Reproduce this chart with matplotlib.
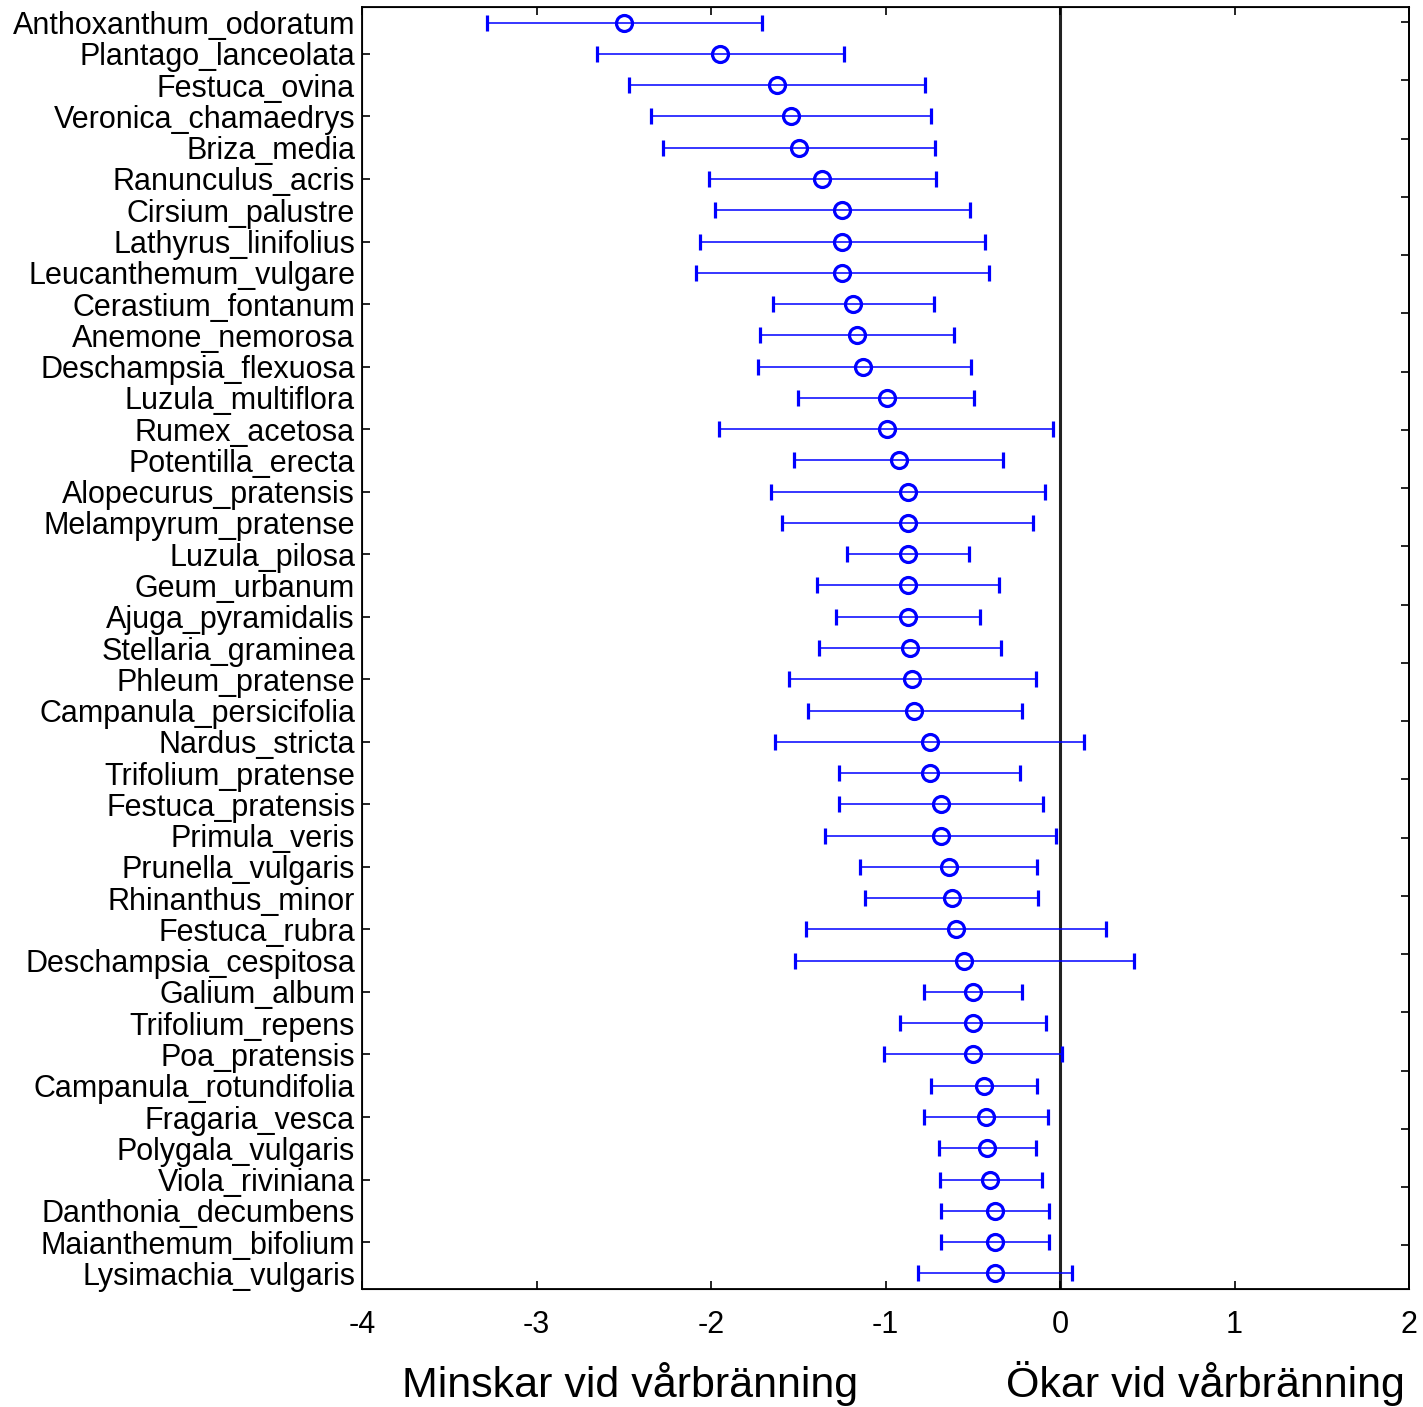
import numpy as np
import matplotlib
matplotlib.use("Agg")
from matplotlib import pyplot as plt

# species in plot order (top to bottom)
species = [
    "Anthoxanthum_odoratum", "Plantago_lanceolata", "Festuca_ovina", "Veronica_chamaedrys",
    "Briza_media", "Ranunculus_acris", "Cirsium_palustre", "Lathyrus_linifolius",
    "Leucanthemum_vulgare", "Cerastium_fontanum", "Anemone_nemorosa", "Deschampsia_flexuosa",
    "Luzula_multiflora", "Rumex_acetosa", "Potentilla_erecta", "Alopecurus_pratensis",
    "Melampyrum_pratense", "Luzula_pilosa", "Geum_urbanum", "Ajuga_pyramidalis",
    "Stellaria_graminea", "Phleum_pratense", "Campanula_persicifolia", "Nardus_stricta",
    "Trifolium_pratense", "Festuca_pratensis", "Primula_veris", "Prunella_vulgaris",
    "Rhinanthus_minor", "Festuca_rubra", "Deschampsia_cespitosa", "Galium_album",
    "Trifolium_repens", "Poa_pratensis", "Campanula_rotundifolia", "Fragaria_vesca",
    "Polygala_vulgaris", "Viola_riviniana", "Danthonia_decumbens", "Maianthemum_bifolium",
    "Lysimachia_vulgaris",
]
mean = [
    -2.499, -1.948, -1.624, -1.543, -1.496, -1.366, -1.249, -1.249, -1.249, -1.188,
    -1.162, -1.127, -0.993, -0.993, -0.923, -0.869, -0.869, -0.869, -0.869, -0.869,
    -0.860, -0.850, -0.835, -0.745, -0.745, -0.684, -0.682, -0.638, -0.619, -0.596,
    -0.550, -0.497, -0.497, -0.497, -0.434, -0.426, -0.418, -0.401, -0.372, -0.372,
    -0.372,
]
lower = [
    -3.282, -2.655, -2.468, -2.344, -2.277, -2.011, -1.977, -2.063, -2.088, -1.646,
    -1.719, -1.731, -1.501, -1.952, -1.524, -1.658, -1.593, -1.221, -1.393, -1.284,
    -1.381, -1.553, -1.442, -1.633, -1.265, -1.268, -1.345, -1.148, -1.116, -1.457,
    -1.519, -0.779, -0.915, -1.009, -0.739, -0.781, -0.693, -0.688, -0.682, -0.682,
    -0.814,
]
upper = [
    -1.709, -1.236, -0.774, -0.741, -0.716, -0.711, -0.516, -0.430, -0.405, -0.722,
    -0.606, -0.512, -0.491, -0.042, -0.325, -0.086, -0.153, -0.523, -0.350, -0.458,
    -0.340, -0.139, -0.216, 0.138, -0.229, -0.099, -0.025, -0.132, -0.126, 0.264,
    0.424, -0.216, -0.080, 0.010, -0.132, -0.067, -0.136, -0.105, -0.061, -0.061,
    0.069,
]
x_ticks = [-4, -3, -2, -1, 0, 1, 2]

plt.rcParams['font.family'] = ['Liberation Sans', 'DejaVu Sans']

mean = np.array(mean)
err = np.vstack([mean - np.array(lower), np.array(upper) - mean])
rows = np.arange(len(species))

fig = plt.figure(figsize=(14.23, 14.07), dpi=100)
ax = fig.add_axes([362 / 1423, 1 - 1289 / 1407, 1047 / 1423, 1282 / 1407])

ax.axvline(0, color='#222222', linewidth=2.2, zorder=1)
ax.errorbar(mean, rows, xerr=err, fmt='o', color='blue', ecolor='blue',
            elinewidth=1.1, capsize=6, capthick=1.3, markersize=11.5,
            markerfacecolor='none', markeredgewidth=2.3, zorder=3)

ax.set_xlim(-4, 2)
ax.set_ylim(len(species) - 0.5, -0.5)
ax.set_xticks(x_ticks)
ax.set_xticklabels([str(t) for t in x_ticks], fontsize=22)
ax.set_yticks(rows)
ax.set_yticklabels(species, fontsize=22)
# tick marks only on every second row, labels on all rows
ax.yaxis.remove_overlapping_locs = False
ax.set_yticks(rows[1::2], minor=True)

ax.tick_params(axis='x', direction='in', top=True, length=6, width=1.2, pad=15)
ax.tick_params(axis='y', which='major', length=0, pad=5)
ax.tick_params(axis='y', which='minor', direction='in', length=6, width=1.2, left=True, right=False)
for spine in ax.spines.values():
    spine.set_linewidth(1.3)

# right-hand ticks sit on their own spacing
ax_r = ax.twinx()
ax_r.set_ylim(21.75, -0.26)
ax_r.set_yticks(range(22))
ax_r.set_yticklabels([])
ax_r.tick_params(axis='y', direction='in', length=6, width=1.2)
ax_r.spines['right'].set_linewidth(1.3)

fig.text(630 / 1423, 1 - 1384 / 1407, "Minskar vid vårbränning", fontsize=31,
         ha='center', va='center')
fig.text(1205 / 1423, 1 - 1384 / 1407, "Ökar vid vårbränning", fontsize=31,
         ha='center', va='center')

fig.savefig("out.png", dpi=100)
